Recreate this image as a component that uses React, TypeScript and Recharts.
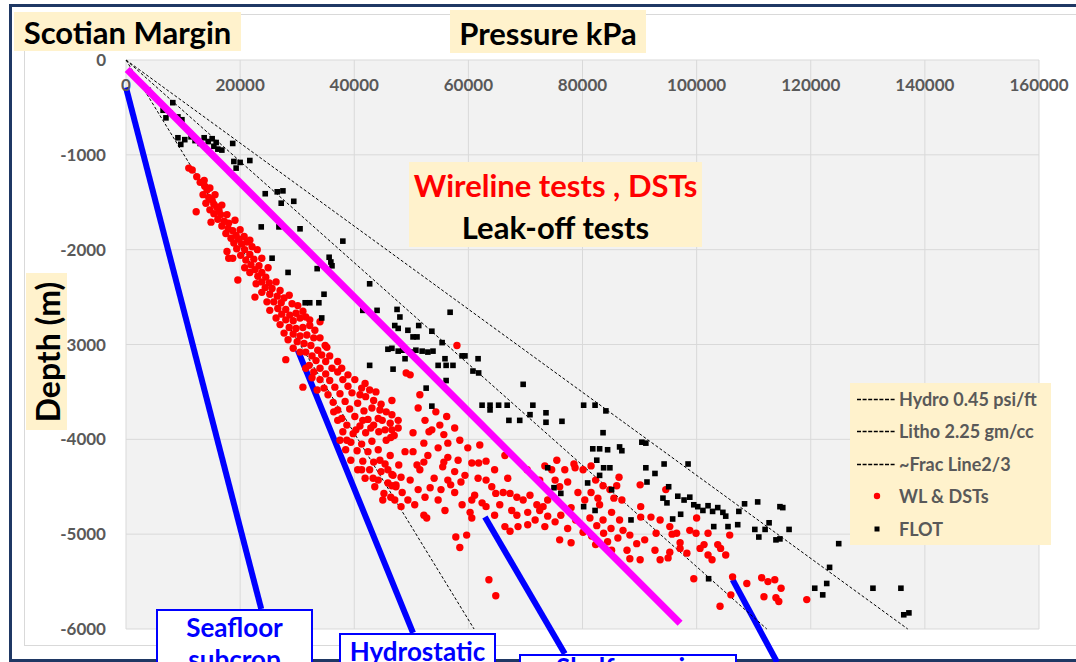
import React from 'react';
import { ScatterChart, Scatter, XAxis, YAxis, CartesianGrid, ReferenceLine } from 'recharts';

const FONT = 'Lato, "Liberation Sans", sans-serif';

// axis ticks
const pressureTicks = [0, 20000, 40000, 60000, 80000, 100000, 120000, 140000, 160000];
const depthTicks = [0, -1000, -2000, -3000, -4000, -5000, -6000];

// gradient lines [kPa, m]
const hydroLine = [[0, 0], [61000, -6000]];
const lithoLine = [[0, 0], [137000, -6000]];
const fracLine = [[0, 0], [112300, -6000]];
const magentaTrend = [[200, -100], [97100, -5940]];

// blue annotation pointers
const seafloorPointer = [[0, -290], [23700, -5790]];
const hydrostaticPointer = [[30100, -3060], [50300, -6040]];
const shelfPointer = [[62900, -4820], [76900, -6260]];
const deepPointer = [[106300, -5480], [114100, -6350]];

// wireline tests & DSTs [kPa, m]
const wlDst = [
  [11000, -1140], [11600, -1160], [12400, -1230], [13000, -1290], [13800, -1330], [14200, -1370], [14700, -1350], [13500, -1420], [14500, -1450], [15100, -1480],
  [14000, -1510], [15400, -1520], [15900, -1550], [12300, -1600], [14700, -1580], [16300, -1590], [15400, -1620], [16600, -1630], [17700, -1630], [16100, -1680],
  [17200, -1700], [18000, -1720], [16800, -1750], [17900, -1780], [18700, -1800], [17500, -1830], [19300, -1850], [18400, -1880], [19800, -1890], [18900, -1930],
  [20300, -1940], [21200, -1920], [17700, -2020], [19400, -1990], [20800, -2000], [18000, -2090], [20100, -2060], [21700, -2050], [21000, -2110], [22400, -2100],
  [21900, -2160], [23300, -2170], [22600, -2210], [23800, -2240], [23100, -2280], [24500, -2290], [19600, -2320], [23800, -2340], [25100, -2350], [24400, -2400],
  [25600, -2410], [22600, -2500], [28600, -2480], [25200, -2470], [26500, -2490], [25900, -2550], [27200, -2560], [26600, -2620], [28000, -2630], [27300, -2680],
  [28700, -2690], [29800, -2670], [28000, -2740], [29300, -2750], [30500, -2720], [31500, -2710], [28600, -2820], [29800, -2830], [31000, -2820], [32200, -2800],
  [34000, -2760], [29300, -2890], [30500, -2910], [31700, -2900], [32900, -2930], [30000, -2970], [31200, -2990], [32400, -3010], [35200, -3030], [33600, -3060],
  [31500, -3080], [32600, -3120], [34300, -3110], [28000, -3160], [33300, -3170], [35000, -3180], [32100, -3220], [34000, -3250], [36100, -3250], [32900, -3290],
  [35000, -3310], [37100, -3290], [31000, -3450], [34000, -3370], [35700, -3380], [38000, -3370], [34700, -3460], [36600, -3450], [38900, -3440], [35400, -3530],
  [37500, -3520], [39600, -3510], [36300, -3610], [38400, -3600], [40600, -3620], [37100, -3690], [39200, -3680], [41700, -3700], [37800, -3780], [40100, -3760],
  [42400, -3790], [38700, -3850], [41000, -3860], [43400, -3850], [38000, -3920], [39800, -3940], [42000, -3930], [44300, -3920], [39400, -4030], [41300, -4050],
  [43100, -4020], [45600, -4010], [40500, -4120], [42400, -4130], [44200, -4110], [39400, -4220], [41500, -4230], [43400, -4240], [45400, -4260], [42700, -4320],
  [44700, -4340], [46600, -4370], [44200, -4430], [45900, -4460], [47300, -4500], [46400, -4610], [48200, -4710], [52200, -4800], [52700, -4830], [57800, -5030],
  [59700, -5010], [58500, -5140], [63600, -5480], [64800, -5650],
  [13700, -1270], [15600, -1420], [16800, -1530], [14900, -1710], [19100, -1690], [20000, -1790], [20700, -1860], [21700, -1900], [22100, -1970], [18700, -2090],
  [23000, -2000], [23800, -2090], [20800, -2190], [21700, -2240], [24900, -2190], [22800, -2360], [26300, -2340], [27000, -2430], [23800, -2450], [27700, -2510],
  [24700, -2550], [29100, -2570], [25200, -2640], [30100, -2590], [26300, -2720], [31000, -2650], [27000, -2790], [32200, -2740], [27700, -2880], [33100, -2850],
  [28400, -2950], [34000, -2930], [29300, -3040], [34900, -3010], [30500, -3080], [35700, -3120], [37100, -3180], [31500, -3250], [37800, -3250], [32600, -3350],
  [38900, -3320], [33500, -3480],
  [42000, -3550], [43400, -3590], [44700, -3630], [42700, -3480], [41300, -3460], [40100, -3370], [41900, -3410], [43800, -3500], [45600, -3710], [44200, -3780],
  [46300, -3830], [45400, -3900], [47700, -3880], [43100, -3670], [46600, -3740], [41000, -3530], [37500, -4010], [38500, -4110], [40600, -4320], [41900, -4410],
  [43600, -4500], [45200, -4570], [47100, -4640],
  [37100, -3800], [36400, -3710], [38700, -4010], [40300, -3900], [41500, -3800], [42900, -3880], [44900, -3800], [47000, -3960], [44500, -4220], [46300, -4170],
  [41300, -4320], [45900, -4320], [43300, -4410], [45000, -4640], [46600, -4490], [48400, -4560], [49400, -4640], [50600, -4690],
  [49100, -3300], [49800, -3320], [58000, -3010], [51200, -3670], [54300, -3710], [56200, -3760], [52400, -3800], [55000, -3850], [57600, -3880], [53600, -3900],
  [47700, -3800], [46600, -3900], [46400, -3980], [50300, -3930], [53100, -3920], [55700, -3950], [52200, -4040], [56400, -4040], [48900, -4130], [50300, -4130],
  [59900, -4090], [58200, -4220], [56400, -4190], [52200, -4240], [55700, -4240], [60600, -4250], [61800, -4250], [63100, -4230], [47800, -4270], [51000, -4270],
  [55500, -4290], [48200, -4400], [49800, -4430], [54000, -4410], [56400, -4430], [58700, -4450], [63100, -4430], [46800, -4380], [47300, -4480], [51200, -4530],
  [53300, -4510], [55200, -4530], [56900, -4480], [57600, -4560], [64100, -4500], [64800, -4570], [66100, -4560], [67300, -4570], [68500, -4610], [69600, -4640],
  [60600, -4640], [61100, -4590], [62400, -4670], [63100, -4710], [60600, -4830], [68500, -4800], [68700, -4920], [66400, -4920], [67300, -4970], [58500, -4010],
  [62000, -4060], [51500, -3530], [46600, -3590], [44500, -3690],
  [51500, -4320], [52900, -4170], [54700, -4090], [57600, -4340], [59400, -4380], [61700, -4410], [64600, -4320], [66900, -4410], [65500, -4690], [67600, -4750],
  [70400, -4770], [71700, -4850], [70400, -4900], [64600, -4800], [58900, -4690], [54700, -4640], [52400, -4610], [55900, -4750], [60300, -4770],
  [73400, -4280], [74600, -4320], [75500, -4220], [78500, -4260], [78700, -4300], [80100, -4320], [81500, -4280], [82300, -4430], [83600, -4490], [84800, -4530],
  [86400, -4400], [86000, -4490], [85500, -4620], [86900, -4640], [82700, -4620], [90200, -4710], [75200, -4430], [76000, -4500], [73100, -4710], [73900, -4810],
  [75200, -4870], [73400, -4920], [76200, -4800], [78000, -4720], [78800, -4850], [80100, -4980], [78000, -5090], [81300, -4830], [82500, -4910], [83700, -4990],
  [85000, -4940], [86200, -5040], [84400, -5080], [87100, -4960], [81600, -5020], [87800, -5170], [88300, -5260], [89500, -5100], [90200, -4820], [92000, -4820],
  [93600, -4850], [92900, -4990], [92700, -5170], [95300, -4920], [95700, -5000], [96500, -4990], [97100, -5090], [97100, -5150], [98300, -5200], [95300, -5190],
  [95000, -5250], [100000, -4830], [99900, -4990], [102000, -4990], [101300, -5110], [102000, -5220], [103700, -5110], [104200, -5150], [105100, -5220], [105800, -5010],
  [99500, -5470], [104100, -5760], [106000, -5640], [106300, -5450], [108800, -5520], [111400, -5460], [112500, -5500], [113700, -5480], [114800, -5570], [111800, -5660],
  [113900, -5670], [114400, -5710], [119300, -5690], [94600, -4530], [72500, -4750], [70800, -4590], [72000, -4690], [80400, -4640], [90100, -4480], [66400, -4170],
  [70300, -4320], [72500, -4430],
  [76900, -4320], [77400, -4450], [79200, -4560], [81500, -4560], [83000, -4690], [85100, -4770], [83600, -4850], [82300, -5110], [85100, -5170], [86500, -4850],
  [88300, -5010], [77400, -4940], [76000, -5060], [73900, -4640], [98800, -4960], [100600, -5150], [102700, -5270], [93600, -5270], [90900, -5060], [90100, -5270],
];

// formation leak-off tests [kPa, m]
const flot = [
  [3900, -320], [8200, -450], [6500, -530], [7700, -560], [9100, -600], [9800, -630], [7000, -610], [9100, -820], [9600, -890], [10300, -840],
  [11400, -810], [12100, -850], [13000, -880], [13700, -820], [14400, -860], [15100, -830], [15400, -910], [16100, -940], [16800, -950], [15800, -870],
  [18700, -880], [18900, -1070], [20000, -1080], [21700, -1060], [19300, -1140], [24400, -1410], [26500, -1390], [27500, -1380], [29400, -1490], [27200, -1510],
  [23700, -1760], [26800, -1760], [30500, -1780], [38000, -1910], [25600, -2090], [35600, -2080], [35900, -2130], [36100, -2170], [28400, -2240], [33500, -2200],
  [42700, -2360], [34700, -2470], [31400, -2560], [32200, -2560], [33800, -2560], [34300, -2720], [56800, -2660], [41500, -2640], [44000, -2640], [47500, -2630],
  [48000, -2710], [47100, -2800], [47700, -2830], [49400, -2850], [51300, -2800], [53600, -2860], [50300, -2920], [51000, -2920], [45900, -3050], [46600, -3040],
  [47700, -3070], [48500, -3060], [49800, -3080], [50800, -3060], [51900, -3070], [52900, -3080], [53800, -3070], [55400, -2980], [42700, -3220], [48900, -3150],
  [46800, -3260], [55900, -3150], [54700, -3220], [56100, -3220], [57300, -3220], [58900, -3120], [59400, -3120], [61700, -3150], [60800, -3280], [61800, -3300],
  [56100, -3380], [52600, -3460], [69600, -3420], [62400, -3640], [63800, -3640], [65300, -3640], [66800, -3640], [63800, -3690], [67100, -3800], [69000, -3800],
  [71300, -3640], [70800, -3740], [73600, -3720], [73600, -3820], [76400, -3810], [80200, -3640], [82200, -3640], [84100, -3700], [53600, -3650], [83600, -3930],
  [81800, -4100], [83000, -4100], [84400, -4110], [86500, -4080], [86900, -4120], [82500, -4220], [83700, -4300], [84800, -4300], [83000, -4380], [80900, -4460],
  [73900, -4300], [75000, -4510], [76200, -4570], [80200, -4710], [82200, -4750], [85100, -4530], [88500, -4850], [90400, -4030], [91100, -4040], [91100, -4300],
  [91300, -4450], [92700, -4360], [94300, -4260], [98500, -4260], [95100, -4500], [94100, -4620], [94800, -4670], [96700, -4600], [97800, -4640], [98800, -4610],
  [99500, -4690], [100200, -4710], [101100, -4750], [102000, -4700], [102800, -4760], [103700, -4720], [104600, -4770], [95800, -4840], [97200, -4790], [103000, -4920],
  [105500, -4920], [105100, -4810], [107200, -4900], [107400, -4760], [108400, -4680], [110200, -4950], [110900, -5030], [112000, -4950], [112700, -4880], [113900, -5060],
  [114600, -5050], [116200, -4950], [110700, -4660], [114600, -4710], [115100, -4720], [124900, -5100], [123300, -5350], [120700, -5570], [122800, -5520], [122100, -5640],
  [130900, -5570], [135800, -5570], [136300, -5850], [137200, -5830], [102100, -5470],
];

const toXY = (pts: number[][]) => pts.map(([x, y]) => ({ x, y }));

function PressureTick({ x, y, payload }: any) {
  return (
    <text x={x} y={y} dy={31} textAnchor="middle" fill="#595959" fontSize={17} fontWeight={700} fontFamily={FONT}>
      {payload.value}
    </text>
  );
}

function DepthTick({ x, y, payload }: any) {
  return (
    <text x={x} y={y} dy={6} textAnchor="end" fill="#595959" fontSize={17} fontWeight={700} fontFamily={FONT}>
      {payload.value}
    </text>
  );
}

const RedDot = (p: any) => <circle cx={p.cx} cy={p.cy} r={3.7} fill="#ff0000" />;
const BlackSquare = (p: any) => <rect x={p.cx - 2.8} y={p.cy - 2.8} width={5.6} height={5.6} fill="#000000" />;
const NoShape = () => <g />;

const cream = '#fff2cc';

const legendRows = [
  { label: 'Hydro 0.45 psi/ft', kind: 'dash' },
  { label: 'Litho 2.25 gm/cc', kind: 'dash' },
  { label: '~Frac Line2/3', kind: 'dash' },
  { label: 'WL & DSTs', kind: 'dot' },
  { label: 'FLOT', kind: 'square' },
];

function LegendBox() {
  return (
    <div style={{ position: 'absolute', left: 850, top: 383, width: 201, height: 162, background: cream }}>
      {legendRows.map((r, i) => (
        <div key={r.label} style={{ position: 'absolute', left: 0, top: i * 32.4, height: 32.4, width: 201 }}>
          <svg width={44} height={32} style={{ position: 'absolute', left: 5, top: 0 }}>
            {r.kind === 'dash' && <line x1={2} x2={40} y1={16.5} y2={16.5} stroke="#000" strokeWidth={1.3} strokeDasharray="4 1.6" />}
            {r.kind === 'dot' && <circle cx={22} cy={16} r={3.2} fill="#ff0000" />}
            {r.kind === 'square' && <rect x={19.5} y={13.5} width={5} height={5} fill="#000" />}
          </svg>
          <div style={{ position: 'absolute', left: 49, top: 0, lineHeight: '32px', fontSize: 18, fontWeight: 700, color: '#595959', whiteSpace: 'nowrap' }}>
            {r.label}
          </div>
        </div>
      ))}
    </div>
  );
}

const calloutStyle: React.CSSProperties = {
  position: 'absolute',
  background: '#fff',
  border: '2px solid #0000ff',
  boxSizing: 'border-box',
  color: '#0000ff',
  fontSize: 26,
  fontWeight: 700,
  lineHeight: '32px',
  textAlign: 'center',
  height: 80,
  overflow: 'hidden',
};

export default function App() {
  return (
    <div style={{ position: 'absolute', left: 0, top: 0, width: 1076, height: 662, overflow: 'hidden', background: '#fff', fontFamily: FONT }}>
      <div style={{ position: 'absolute', left: 9, top: 4, width: 1100, height: 658, border: '3px solid #1f3864', boxSizing: 'border-box' }} />
      <div style={{ position: 'absolute', left: 24, top: 14, width: 1100, height: 632, border: '1px solid #d9d9d9', boxSizing: 'border-box', background: '#fff' }} />

      <div style={{ position: 'absolute', left: 0, top: 0 }}>
        <ScatterChart width={1076} height={662} margin={{ top: 30, right: 37, bottom: 33, left: 66 }}>
          <CartesianGrid fill="#f2f2f2" stroke="#d9d9d9" strokeWidth={1} />
          <XAxis
            type="number"
            dataKey="x"
            orientation="top"
            domain={[0, 160000]}
            ticks={pressureTicks}
            interval={0}
            height={30}
            tickSize={0}
            tickMargin={0}
            axisLine={false}
            tickLine={false}
            tick={<PressureTick />}
          />
          <YAxis
            type="number"
            dataKey="y"
            domain={[-6000, 0]}
            ticks={depthTicks}
            interval={0}
            width={60}
            tickSize={0}
            tickMargin={20}
            axisLine={false}
            tickLine={false}
            tick={<DepthTick />}
          />
          <Scatter data={toXY(hydroLine)} line={{ stroke: '#000', strokeWidth: 1, strokeDasharray: '3 2' }} fill="#000" shape={NoShape} isAnimationActive={false} />
          <Scatter data={toXY(lithoLine)} line={{ stroke: '#000', strokeWidth: 1, strokeDasharray: '3 2' }} fill="#000" shape={NoShape} isAnimationActive={false} />
          <Scatter data={toXY(fracLine)} line={{ stroke: '#000', strokeWidth: 1, strokeDasharray: '3 2' }} fill="#000" shape={NoShape} isAnimationActive={false} />
          <Scatter data={toXY(wlDst)} fill="#ff0000" shape={RedDot} isAnimationActive={false} />
          <Scatter data={toXY(flot)} fill="#000000" shape={BlackSquare} isAnimationActive={false} />
          <Scatter data={toXY(magentaTrend)} line={{ stroke: '#ff00ff', strokeWidth: 7 }} fill="#ff00ff" shape={NoShape} isAnimationActive={false} />
          <ReferenceLine segment={toXY(seafloorPointer)} stroke="#0000ff" strokeWidth={6} ifOverflow="visible" />
          <ReferenceLine segment={toXY(hydrostaticPointer)} stroke="#0000ff" strokeWidth={6} ifOverflow="visible" />
          <ReferenceLine segment={toXY(shelfPointer)} stroke="#0000ff" strokeWidth={6} ifOverflow="visible" />
          <ReferenceLine segment={toXY(deepPointer)} stroke="#0000ff" strokeWidth={6} ifOverflow="visible" />
        </ScatterChart>
      </div>

      {/* title boxes */}
      <div style={{ position: 'absolute', left: 14, top: 12, width: 227, height: 39, background: cream, fontSize: 31, fontWeight: 700, lineHeight: '40px', textAlign: 'center', color: '#000', whiteSpace: 'nowrap' }}>
        Scotian Margin
      </div>
      <div style={{ position: 'absolute', left: 450, top: 10, width: 196, height: 43, background: cream, fontSize: 31, fontWeight: 700, lineHeight: '46px', textAlign: 'center', color: '#000', whiteSpace: 'nowrap' }}>
        Pressure kPa
      </div>
      <div style={{ position: 'absolute', left: 409, top: 162, width: 293, height: 85, background: cream, fontSize: 31, fontWeight: 700, textAlign: 'center', whiteSpace: 'nowrap' }}>
        <div style={{ color: '#ff0000', lineHeight: '44px', marginTop: 1 }}>Wireline tests , DSTs</div>
        <div style={{ color: '#000', lineHeight: '40px' }}>Leak-off tests</div>
      </div>
      <div style={{ position: 'absolute', left: 26, top: 273, width: 41, height: 157, background: cream }}>
        <div style={{ position: 'absolute', left: 20.5, top: 79, transform: 'translate(-50%, -50%) rotate(-90deg)', fontSize: 32, fontWeight: 700, whiteSpace: 'nowrap', color: '#000' }}>
          Depth (m)
        </div>
      </div>

      <LegendBox />

      {/* callouts */}
      <div style={{ ...calloutStyle, left: 156, top: 609, width: 157 }}>Seafloor<br />subcrop</div>
      <div style={{ ...calloutStyle, left: 339, top: 633, width: 157 }}>Hydrostatic<br />pressure</div>
      <div style={{ ...calloutStyle, left: 519, top: 654, width: 218 }}>
        <div style={{ marginTop: -5 }}>Shelf margin<br />overpressure</div>
      </div>
    </div>
  );
}
